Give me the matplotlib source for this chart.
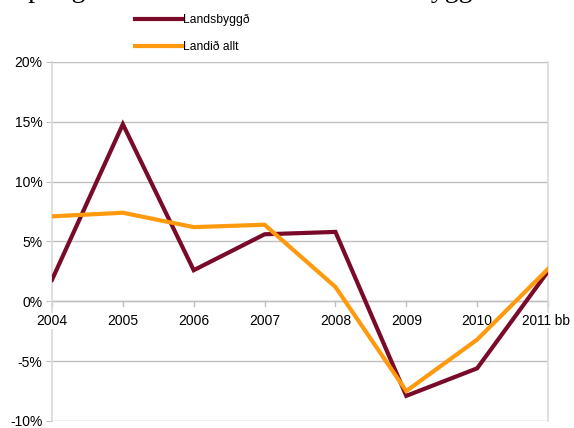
"""
Annual change, Landsbyggð vs Landið allt
"""
import matplotlib
matplotlib.use('Agg')
import matplotlib.pyplot as plt
from matplotlib.ticker import FuncFormatter

################################################################################
# Data
################################################################################
YEARS           = ['2004', '2005', '2006', '2007', '2008', '2009', '2010', '2011 bb']
LANDSBYGGD      = [1.8, 14.8, 2.6, 5.6, 5.8, -7.9, -5.6, 2.5]
LANDID_ALLT     = [7.1, 7.4, 6.2, 6.4, 1.2, -7.5, -3.2, 2.7]
Y_TICKS         = [-10, -5, 0, 5, 10, 15, 20]
TITLE_TEXT      = 'Skipting útsvarstekna milli ára á landsbyggð'

################################################################################
# Style
################################################################################
SANS            = ['Liberation Sans', 'DejaVu Sans']
NARROW          = ['Liberation Sans Narrow', 'Liberation Sans', 'DejaVu Sans']
C_LAND          = '#7a0a29'
C_ALLT          = '#ff9a0e'
C_GRID          = '#bfbfbf'
C_BORDER        = '#d9d9d9'

plt.rcParams['font.family'] = SANS

fig = plt.figure(figsize = (5.74, 4.28), dpi = 100)
ax  = fig.add_axes([0.0906, 0.0164, 0.8641, 0.8388])

x = list(range(len(YEARS)))

ax.plot(x, LANDSBYGGD, color = C_LAND, lw = 3, label = 'Landsbyggð',
        solid_joinstyle = 'miter', zorder = 3)
ax.plot(x, LANDID_ALLT, color = C_ALLT, lw = 3, label = 'Landið allt',
        solid_joinstyle = 'miter', zorder = 3)

########################################
# Axes
########################################
ax.set_xlim(0, len(YEARS) - 1)
ax.set_ylim(-10, 20)
ax.set_yticks(Y_TICKS)
ax.yaxis.set_major_formatter(FuncFormatter(lambda v, p: f'{v:.0f}%'))
ax.grid(axis = 'y', color = C_GRID, lw = 1)
ax.set_axisbelow(True)

for side in ['top', 'bottom']:
    ax.spines[side].set_visible(False)
ax.spines['left'].set_color(C_BORDER)
ax.spines['right'].set_color(C_BORDER)
ax.spines['left'].set_linewidth(1.2)
ax.spines['right'].set_linewidth(1.2)

# zero line acts as the category axis
ax.axhline(0, color = C_GRID, lw = 1, zorder = 1)

ax.tick_params(axis = 'y', length = 4, color = C_GRID, labelsize = 10, pad = 3)
ax.set_xticks(x)
ax.set_xticklabels([])
ax.tick_params(axis = 'x', length = 0)

# category labels sit above the border but under the data lines
for xi, lab in zip(x, YEARS):
    ax.plot([xi, xi], [0, -0.35], color = C_GRID, lw = 1, zorder = 1, clip_on = False)
    if lab.endswith('bb'):
        # last category label runs up to the right edge of the picture
        t = ax.annotate(lab, xy = (xi, 0), xytext = (-18.5, -9), textcoords = 'offset points',
                        ha = 'left', va = 'top', fontsize = 9.8, zorder = 2.7)
    else:
        t = ax.annotate(lab, xy = (xi, 0), xytext = (0, -9), textcoords = 'offset points',
                        ha = 'center', va = 'top', fontsize = 10, zorder = 2.7)
    t.set_bbox(dict(facecolor = 'white', edgecolor = 'none', pad = 0.5))

########################################
# Legend
########################################
fig.legend(loc = 'upper left', bbox_to_anchor = (0.216, 0.993), frameon = False,
           handlelength = 4.0, handletextpad = 0.0, labelspacing = 1.25,
           prop = {'family': NARROW, 'size': 8.7})

########################################
# Cropped title
########################################
fig.text(-0.015, 1.006, TITLE_TEXT, family = ['Liberation Serif', 'DejaVu Serif'],
         fontsize = 20, va = 'baseline', ha = 'left')

fig.savefig('out.png', dpi = 100)
